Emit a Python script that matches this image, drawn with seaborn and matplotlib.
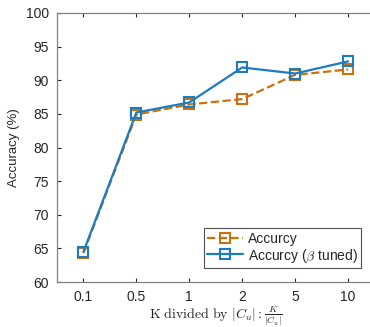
import matplotlib
matplotlib.use("Agg")
import matplotlib.pyplot as plt
import seaborn as sns
import numpy as np
import pandas as pd

categories = ["0.1", "0.5", "1", "2", "5", "10"]
accuracy = [64.3, 84.9, 86.4, 87.2, 90.8, 91.6]
accuracy_tuned = [64.5, 85.2, 86.7, 91.9, 91.0, 92.8]
y_ticks = [60, 65, 70, 75, 80, 85, 90, 95, 100]

sns.set_theme(style="white")
plt.rcParams['font.family'] = ['Liberation Sans', 'DejaVu Sans']
plt.rcParams['mathtext.fontset'] = 'cm'

pos = np.arange(len(categories))
df = pd.DataFrame({"pos": pos, "acc": accuracy, "tuned": accuracy_tuned})

fig = plt.figure(figsize=(3.7, 3.27), dpi=100)
ax = fig.add_axes([57/370, 45/327, (374.5-57)/370, (282-13)/327])

orange = "#C8720F"
blue = "#1B7CC0"
sns.lineplot(data=df, x="pos", y="acc", ax=ax, color=orange, linestyle="--",
             linewidth=1.6, marker="s", markersize=6.5, markerfacecolor="none",
             markeredgecolor=orange, markeredgewidth=1.5, label="Accurcy")
sns.lineplot(data=df, x="pos", y="tuned", ax=ax, color=blue, linestyle="-",
             linewidth=1.6, marker="s", markersize=6.5, markerfacecolor="none",
             markeredgecolor=blue, markeredgewidth=1.5, label=r"Accurcy ($\beta$ tuned)")

ax.set_xlim(-0.5, 5.5)
ax.set_ylim(60, 100)
ax.set_xticks(pos)
ax.set_xticklabels(categories)
ax.set_yticks(y_ticks)
ax.tick_params(axis="both", direction="in", length=3, width=0.8, color="#262626",
               labelsize=10, labelcolor="#262626", bottom=True, left=True,
               top=True, right=True, pad=6)
for s in ax.spines.values():
    s.set_color("#808080")
    s.set_linewidth(0.9)
    s.set_visible(True)

ax.set_ylabel("Accuracy (%)", fontsize=9.5, color="#262626", labelpad=4)
ax.set_xlabel(r"$\mathrm{K\ divided\ by\ }|C_u|:\frac{K}{|C_u|}$", fontsize=10,
              color="#262626", labelpad=0)

leg = ax.legend(loc="lower right", bbox_to_anchor=((361-57)/(374.5-57), (282-268)/(282-13)),
                fontsize=10, frameon=True, fancybox=False, edgecolor="#262626",
                handlelength=2.6, borderpad=0.25, labelspacing=0.1, handletextpad=0.3,
                borderaxespad=0)
leg.get_frame().set_linewidth(0.8)

fig.savefig("out.png", dpi=100)
